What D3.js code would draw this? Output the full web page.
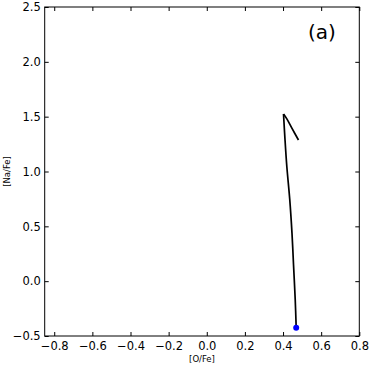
<!DOCTYPE html>
<html><head><meta charset="utf-8">
<script src="https://cdn.jsdelivr.net/npm/d3@7"></script>
<style>body{margin:0;background:#fff}svg{display:block}text{font-family:"DejaVu Sans",sans-serif}</style>
</head><body>
<script>
const xTicks = [-0.8,-0.6,-0.4,-0.2,0.0,0.2,0.4,0.6,0.8];
const yTicks = [-0.5,0.0,0.5,1.0,1.5,2.0,2.5];
const riseOFe = [0.469,0.464,0.455,0.447,0.435,0.420,0.410,0.4025];
const riseNaFe = [-0.424,-0.172,0.15,0.436,0.75,1.043,1.30,1.524];
const turnOFe = [0.4025,0.420,0.445,0.481];
const turnNaFe = [1.524,1.48,1.40,1.287];
const startPoint = [0.469,-0.424];
const panelLabel = "(a)";

const W=374,H=374;
const m={l:44.7,r:359.3,t:7,b:336};
const svg=d3.select("body").append("svg").attr("width",W).attr("height",H);
const x=d3.scaleLinear().domain([-0.85,0.8]).range([m.l,m.r]);
const y=d3.scaleLinear().domain([-0.5,2.5]).range([m.b,m.t]);
const fmt=d=>d3.format(".1f")(d).replace("-","\u2212");

const gx=svg.append("g").attr("transform",`translate(0,${m.b})`)
  .call(d3.axisBottom(x).tickValues(xTicks).tickSizeInner(-4).tickSizeOuter(0).tickPadding(6).tickFormat(fmt));
const gy=svg.append("g").attr("transform",`translate(${m.l},0)`)
  .call(d3.axisLeft(y).tickValues(yTicks).tickSizeInner(-4).tickSizeOuter(0).tickPadding(4).tickFormat(fmt));
const gx2=svg.append("g").attr("transform",`translate(0,${m.t})`)
  .call(d3.axisTop(x).tickValues(xTicks).tickSizeInner(-4).tickSizeOuter(0).tickFormat(""));
const gy2=svg.append("g").attr("transform",`translate(${m.r},0)`)
  .call(d3.axisRight(y).tickValues(yTicks).tickSizeInner(-4).tickSizeOuter(0).tickFormat(""));
[gx,gy,gx2,gy2].forEach(g=>{g.select(".domain").remove();g.selectAll("line").attr("stroke","#000");
  g.selectAll("text").attr("font-size","11.5px").attr("fill","#000");});
gx.selectAll("text").attr("dy","0.71em");

svg.append("rect").attr("x",m.l).attr("y",m.t).attr("width",m.r-m.l).attr("height",m.b-m.t)
  .attr("fill","none").attr("stroke","#000").attr("stroke-width",1);

const rise=riseOFe.map((v,i)=>[v,riseNaFe[i]]);
const turn=turnOFe.map((v,i)=>[v,turnNaFe[i]]);
const line=d3.line().x(d=>x(d[0])).y(d=>y(d[1])).curve(d3.curveCatmullRom);
[rise,turn].forEach(seg=>svg.append("path").datum(seg).attr("fill","none").attr("stroke","#000")
  .attr("stroke-width",1.7).attr("stroke-linejoin","miter").attr("d",line));
svg.append("circle").attr("cx",x(startPoint[0])).attr("cy",y(startPoint[1])).attr("r",3).attr("fill","#0000ff");

svg.append("text").attr("x",(m.l+m.r)/2).attr("y",362).attr("text-anchor","middle")
  .attr("font-family","Liberation Sans, Arial, sans-serif").attr("font-size","8.5px").text("[O/Fe]");
svg.append("text").attr("transform",`translate(10,${(m.t+m.b)/2}) rotate(-90)`).attr("text-anchor","middle")
  .attr("font-family","Liberation Sans, Arial, sans-serif").attr("font-size","8.5px").text("[Na/Fe]");
svg.append("text").attr("x",322).attr("y",39).attr("text-anchor","middle")
  .attr("font-family","Liberation Sans, Arial, sans-serif").attr("font-size","20px").text(panelLabel);
</script>
</body></html>
